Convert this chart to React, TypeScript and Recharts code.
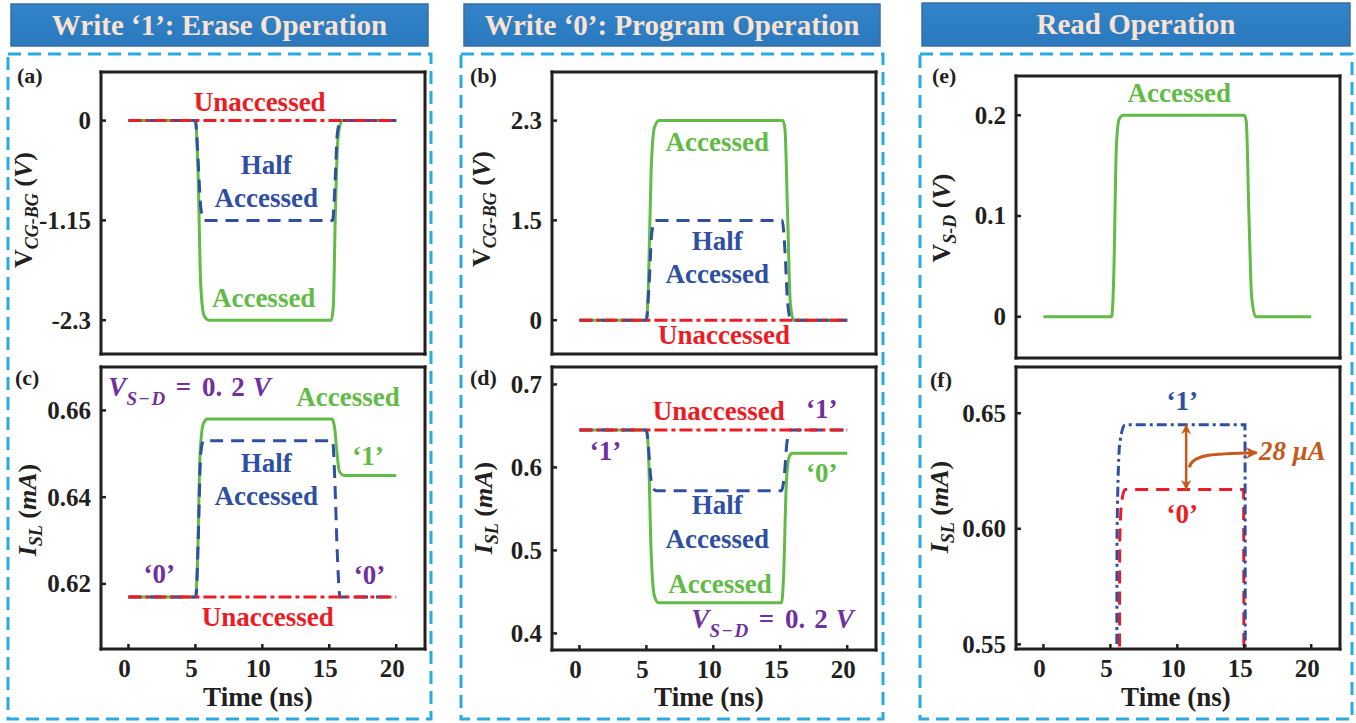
import React from 'react';
import { LineChart, Line, XAxis, YAxis, ReferenceDot, ReferenceLine } from 'recharts';

const SERIF = 'Liberation Serif';
const INK = '#231f20';
const GREEN = '#62bb46';
const BLUE = '#2f4fa2';
const RED = '#ed1c24';
const PURPLE = '#7030a0';
const ORANGE = '#c55a1c';
const FRAME = '#29abe2';
const HEAD_FILL = '#2a79bf';
const HEAD_TEXT = '#fbe3d2';

// shared time axis (ns)
const timeTicks = [0, 5, 10, 15, 20];
const timeDomain: [number, number] = [-2.05, 22.15];

// (a) erase, gate-to-back-gate bias (V)
const eraseGateAccT = [0, 5.0, 5.2, 5.4, 5.65, 6.0, 15.15, 15.3, 15.45, 15.65, 15.95, 20];
const eraseGateAccV = [0, 0, -0.6, -1.9, -2.25, -2.3, -2.3, -2.15, -1.1, -0.2, 0, 0];
const eraseGateHalfT = [0, 5.0, 5.2, 5.4, 5.65, 15.25, 15.45, 15.6, 15.85, 20];
const eraseGateHalfV = [0, 0, -0.45, -1.0, -1.15, -1.15, -0.65, -0.15, 0, 0];
const eraseGateUnT = [0, 20];
const eraseGateUnV = [0, 0];

// (c) erase, source-line current (mA)
const eraseIslAccT = [0, 5.0, 5.15, 5.35, 5.6, 5.9, 15.2, 15.4, 15.55, 15.75, 16.1, 20];
const eraseIslAccV = [0.617, 0.617, 0.624, 0.65, 0.657, 0.658, 0.658, 0.656, 0.651, 0.646, 0.645, 0.645];
const eraseIslHalfT = [0, 5.05, 5.2, 5.4, 5.6, 15.25, 15.4, 15.6, 15.8, 20];
const eraseIslHalfV = [0.617, 0.617, 0.629, 0.65, 0.653, 0.653, 0.645, 0.627, 0.617, 0.617];
const eraseIslUnT = [0, 20];
const eraseIslUnV = [0.617, 0.617];

// (b) program, gate-to-back-gate bias (V)
const progGateAccT = [0, 5.0, 5.15, 5.35, 5.6, 5.95, 15.2, 15.35, 15.55, 15.75, 16.0, 20];
const progGateAccV = [0, 0, 0.4, 1.7, 2.22, 2.3, 2.3, 2.2, 1.2, 0.2, 0, 0];
const progGateHalfT = [0, 5.0, 5.2, 5.4, 5.65, 15.15, 15.35, 15.55, 15.8, 20];
const progGateHalfV = [0, 0, 0.4, 1.0, 1.15, 1.15, 0.8, 0.2, 0, 0];
const progGateUnT = [0, 20];
const progGateUnV = [0, 0];
const progGateTicks = [0, 1.15, 2.3];
const progGateTickText = ['0', '1.5', '2.3'];

// (d) program, source-line current (mA)
const progIslAccT = [0, 5.0, 5.15, 5.35, 5.6, 5.9, 15.1, 15.25, 15.45, 15.65, 15.9, 20];
const progIslAccV = [0.645, 0.645, 0.62, 0.5, 0.445, 0.437, 0.437, 0.47, 0.58, 0.612, 0.617, 0.617];
const progIslHalfT = [0, 5.0, 5.15, 5.35, 5.7, 15.1, 15.3, 15.5, 15.75, 20];
const progIslHalfV = [0.645, 0.645, 0.625, 0.585, 0.572, 0.572, 0.59, 0.63, 0.645, 0.645];
const progIslUnT = [0, 20];
const progIslUnV = [0.645, 0.645];

// (e) read, source-to-drain bias (V)
const readVsdT = [0, 5.1, 5.25, 5.45, 5.65, 5.95, 15.0, 15.15, 15.35, 15.55, 15.85, 20];
const readVsdV = [0, 0, 0.04, 0.17, 0.196, 0.2, 0.2, 0.194, 0.1, 0.02, 0, 0];

// (f) read, source-line current (mA) for stored '1' and '0'
const readOneLevel = 0.645;
const readZeroLevel = 0.617;
const readOneT = [0, 5.4, 5.5, 5.7, 6.1, 15.05, 15.15, 20];
const readOneV = [0, 0, 0.6, 0.637, readOneLevel, readOneLevel, 0, 0];
const readZeroT = [0, 5.6, 5.7, 5.85, 6.1, 14.95, 15.05, 20];
const readZeroV = [0, 0, 0.595, 0.612, readZeroLevel, readZeroLevel, 0, 0];
const senseMarginUA = Math.round((readOneLevel - readZeroLevel) * 1000);

const zip = (t: number[], v: number[]) => t.map((time, i) => ({ t: time, v: v[i] }));

type Trace = { t: number[]; v: number[]; color: string; dash?: string };
type Note = { t: number; v: number; render: (x: number, y: number) => React.ReactElement };

const word = (text: string, color: string, size = 27) => (x: number, y: number) => (
  <text x={x} y={y} textAnchor="middle" fill={color} fontFamily={SERIF} fontWeight="bold" fontSize={size}>
    {text}
  </text>
);

const vsdNote = (x: number, y: number) => (
  <text x={x} y={y} textAnchor="start" fill={PURPLE} fontFamily={SERIF} fontWeight="bold" fontSize={27}>
    <tspan fontStyle="italic">V</tspan>
    <tspan fontStyle="italic" fontSize={19} dy={9} letterSpacing={1.5}>S−D</tspan>
    <tspan dy={-9} dx={9}>=</tspan>
    <tspan dx={11}>0.</tspan>
    <tspan dx={9}>2</tspan>
    <tspan dx={8} fontStyle="italic">V</tspan>
  </text>
);

const DASHED = '13 8';
const DASH_DOT = '13 4 4 4';

// outer margins around each plot box and the space taken by each axis
const ML = 100;
const MR = 12;
const MT = 12;
const MB = 56;
const Y_W = 60;
const X_H = 40;

const axisStroke = { stroke: INK, strokeWidth: 3, strokeLinecap: 'square' as const };
const tickStroke = { stroke: INK, strokeWidth: 2.5 };

type PanelProps = {
  box: [number, number, number, number];
  yDomain: [number, number];
  yTicks: number[];
  yTickText: string[];
  showTime: boolean;
  traces: Trace[];
  notes: Note[];
  children?: React.ReactNode;
};

function Panel({ box, yDomain, yTicks, yTickText, showTime, traces, notes, children }: PanelProps) {
  const [x0, y0, x1, y1] = box;
  const w = x1 - x0 + ML + MR;
  const h = y1 - y0 + MT + MB;
  const yText = (val: number) => {
    const i = yTicks.indexOf(val);
    return i >= 0 ? yTickText[i] : String(val);
  };
  return (
    <div style={{ position: 'absolute', left: x0 - ML, top: y0 - MT, width: w, height: h }}>
      <LineChart width={w} height={h} margin={{ top: MT - 1, right: MR - 1, bottom: MB - X_H, left: ML - Y_W }}>
        <XAxis
          xAxisId="x"
          type="number"
          dataKey="t"
          domain={timeDomain}
          ticks={timeTicks}
          allowDataOverflow
          interval={0}
          height={X_H}
          axisLine={axisStroke}
          tickLine={tickStroke}
          tickSize={-5}
          tickMargin={15}
          tick={
            showTime
              ? (p: any) => (
                  <text x={p.x} y={p.y} dx={-4} dy="0.7em" textAnchor="middle" fontFamily={SERIF} fontWeight="bold" fontSize={25} fill={INK}>
                    {p.payload.value}
                  </text>
                )
              : false
          }
        />
        <XAxis
          xAxisId="xt"
          orientation="top"
          type="number"
          domain={timeDomain}
          ticks={timeTicks}
          allowDataOverflow
          interval={0}
          height={1}
          axisLine={axisStroke}
          tickLine={tickStroke}
          tickSize={-5}
          tick={false}
        />
        <YAxis
          yAxisId="y"
          type="number"
          domain={yDomain}
          ticks={yTicks}
          allowDataOverflow
          interval={0}
          width={Y_W}
          axisLine={axisStroke}
          tickLine={tickStroke}
          tickSize={-5}
          tickMargin={15}
          tick={(p: any) => (
            <text x={p.x} y={p.y} dy="0.34em" textAnchor="end" fontFamily={SERIF} fontWeight="bold" fontSize={25} fill={INK}>
              {yText(p.payload.value)}
            </text>
          )}
        />
        <YAxis
          yAxisId="yr"
          orientation="right"
          type="number"
          domain={yDomain}
          ticks={yTicks}
          allowDataOverflow
          interval={0}
          width={1}
          axisLine={axisStroke}
          tickLine={tickStroke}
          tickSize={-5}
          tick={false}
        />
        {traces.map((tr, i) => (
          <Line
            key={i}
            xAxisId="x"
            yAxisId="y"
            data={zip(tr.t, tr.v)}
            dataKey="v"
            type="monotone"
            stroke={tr.color}
            strokeWidth={3}
            strokeDasharray={tr.dash}
            dot={false}
            activeDot={false}
            isAnimationActive={false}
          />
        ))}
        {notes.map((n, i) => (
          <ReferenceDot
            key={`n${i}`}
            xAxisId="x"
            yAxisId="y"
            x={n.t}
            y={n.v}
            r={1}
            shape={(p: any) => n.render(p.cx, p.cy)}
          />
        ))}
        {children}
      </LineChart>
    </div>
  );
}

function YTitle({ x, y, main, sub, unit, italicMain }: { x: number; y: number; main: string; sub: string; unit: string; italicMain?: boolean }) {
  return (
    <text transform={`rotate(-90 ${x} ${y})`} x={x} y={y} textAnchor="middle" fontFamily={SERIF} fontWeight="bold" fontSize={26} fill={INK}>
      <tspan fontStyle={italicMain ? 'italic' : 'normal'}>{main}</tspan>
      <tspan fontStyle="italic" fontSize={18} dy={6}>{sub}</tspan>
      <tspan dy={-6}> (</tspan>
      <tspan fontStyle="italic">{unit}</tspan>
      <tspan>)</tspan>
    </text>
  );
}

function Header({ x, y, w, h, text }: { x: number; y: number; w: number; h: number; text: string }) {
  return (
    <g>
      <rect x={x} y={y} width={w} height={h} fill="url(#headFill)" stroke="#3d6e9e" strokeWidth={1.5} />
      <text x={x + w / 2} y={y + 31} textAnchor="middle" fontFamily={SERIF} fontWeight="bold" fontSize={29} fill={HEAD_TEXT}>
        {text}
      </text>
    </g>
  );
}

const Tag = ({ x, y, text }: { x: number; y: number; text: string }) => (
  <text x={x} y={y} fontFamily={SERIF} fontWeight="bold" fontSize={22} fill={INK}>
    {text}
  </text>
);

const TimeTitle = ({ x }: { x: number }) => (
  <text x={x} y={706} textAnchor="middle" fontFamily={SERIF} fontWeight="bold" fontSize={27} fill={INK}>
    Time (ns)
  </text>
);

function DoubleArrow(p: any) {
  return (
    <g>
      <defs>
        <marker id="headA" viewBox="0 0 10 10" refX="9.5" refY="5" markerWidth="11" markerHeight="10" markerUnits="userSpaceOnUse" orient="auto-start-reverse">
          <path d="M0,0 L10,5 L0,10 L3,5 z" fill={ORANGE} />
        </marker>
      </defs>
      <line x1={p.x1} y1={p.y1} x2={p.x2} y2={p.y2} stroke={ORANGE} strokeWidth={2.5} markerStart="url(#headA)" markerEnd="url(#headA)" />
    </g>
  );
}

function CurvedArrow(p: any) {
  const d = `M${p.x1},${p.y1} C${p.x1 + 3},${p.y1 - 13} ${p.x1 + 22},${p.y2 + 1} ${p.x2},${p.y2}`;
  return (
    <g>
      <defs>
        <marker id="headB" viewBox="0 0 10 10" refX="9" refY="5" markerWidth="13" markerHeight="12" markerUnits="userSpaceOnUse" orient="auto">
          <path d="M0,0 L10,5 L0,10 L3,5 z" fill={ORANGE} />
        </marker>
      </defs>
      <path d={d} fill="none" stroke={ORANGE} strokeWidth={3} markerEnd="url(#headB)" />
    </g>
  );
}

export default function App() {
  return (
    <div style={{ position: 'absolute', left: 0, top: 0, width: 1356, height: 723, background: '#fff', overflow: 'hidden' }}>
      <svg width={1356} height={723} style={{ position: 'absolute', left: 0, top: 0 }}>
        <defs>
          <linearGradient id="headFill" x1="0" y1="0" x2="0" y2="1">
            <stop offset="0" stopColor="#3283c9" />
            <stop offset="1" stopColor={HEAD_FILL} />
          </linearGradient>
        </defs>
        <Header x={11} y={4} w={417} h={42} text="Write ‘1’: Erase Operation" />
        <Header x={464} y={4} w={416} h={42} text="Write ‘0’: Program Operation" />
        <Header x={922} y={3} w={428} h={43} text="Read Operation" />

        <rect x={8} y={54} width={423} height={665} fill="none" stroke={FRAME} strokeWidth={3} strokeDasharray="13 7" />
        <rect x={461} y={54} width={422} height={665} fill="none" stroke={FRAME} strokeWidth={3} strokeDasharray="13 7" />
        <rect x={920} y={54} width={432} height={665} fill="none" stroke={FRAME} strokeWidth={3} strokeDasharray="13 7" />

        <Tag x={17} y={83} text="(a)" />
        <Tag x={15} y={385} text="(c)" />
        <Tag x={470} y={83} text="(b)" />
        <Tag x={470} y={385} text="(d)" />
        <Tag x={932} y={83} text="(e)" />
        <Tag x={930} y={387} text="(f)" />

        <YTitle x={32} y={210} main="V" sub="CG-BG" unit="V" />
        <YTitle x={36} y={510} main="I" sub="SL" unit="mA" italicMain />
        <YTitle x={490} y={209} main="V" sub="CG-BG" unit="V" />
        <YTitle x={492} y={508} main="I" sub="SL" unit="mA" italicMain />
        <YTitle x={950} y={218} main="V" sub="S-D" unit="V" />
        <YTitle x={948} y={507} main="I" sub="SL" unit="mA" italicMain />

        <TimeTitle x={258} />
        <TimeTitle x={709} />
        <TimeTitle x={1176} />
      </svg>

      {/* (a) erase gate bias */}
      <Panel
        box={[101, 72, 425, 354]}
        yDomain={[-2.69, 0.56]}
        yTicks={[-2.3, -1.15, 0]}
        yTickText={['-2.3', '-1.15', '0']}
        showTime={false}
        traces={[
          { t: eraseGateAccT, v: eraseGateAccV, color: GREEN },
          { t: eraseGateHalfT, v: eraseGateHalfV, color: BLUE, dash: DASHED },
          { t: eraseGateUnT, v: eraseGateUnV, color: RED, dash: DASH_DOT },
        ]}
        notes={[
          { t: 9.8, v: 0.11, render: word('Unaccessed', RED) },
          { t: 10.3, v: -0.62, render: word('Half', BLUE) },
          { t: 10.3, v: -1.0, render: word('Accessed', BLUE) },
          { t: 10.1, v: -2.15, render: word('Accessed', GREEN) },
        ]}
      />

      {/* (c) erase source-line current */}
      <Panel
        box={[101, 367, 425, 649]}
        yDomain={[0.605, 0.67]}
        yTicks={[0.62, 0.64, 0.66]}
        yTickText={['0.62', '0.64', '0.66']}
        showTime
        traces={[
          { t: eraseIslAccT, v: eraseIslAccV, color: GREEN },
          { t: eraseIslHalfT, v: eraseIslHalfV, color: BLUE, dash: DASHED },
          { t: eraseIslUnT, v: eraseIslUnV, color: RED, dash: DASH_DOT },
        ]}
        notes={[
          { t: -1.5, v: 0.6634, render: vsdNote },
          { t: 16.4, v: 0.6609, render: word('Accessed', GREEN) },
          { t: 17.9, v: 0.6475, render: word('‘1’', GREEN) },
          { t: 10.3, v: 0.6457, render: word('Half', BLUE) },
          { t: 10.3, v: 0.6381, render: word('Accessed', BLUE) },
          { t: 2.3, v: 0.6203, render: word('‘0’', PURPLE) },
          { t: 18.0, v: 0.6199, render: word('‘0’', PURPLE) },
          { t: 10.4, v: 0.6104, render: word('Unaccessed', RED) },
        ]}
      />

      {/* (b) program gate bias */}
      <Panel
        box={[552, 72, 876, 354]}
        yDomain={[-0.39, 2.86]}
        yTicks={progGateTicks}
        yTickText={progGateTickText}
        showTime={false}
        traces={[
          { t: progGateAccT, v: progGateAccV, color: GREEN },
          { t: progGateHalfT, v: progGateHalfV, color: BLUE, dash: DASHED },
          { t: progGateUnT, v: progGateUnV, color: RED, dash: DASH_DOT },
        ]}
        notes={[
          { t: 10.3, v: 1.946, render: word('Accessed', GREEN) },
          { t: 10.3, v: 0.81, render: word('Half', BLUE) },
          { t: 10.3, v: 0.424, render: word('Accessed', BLUE) },
          { t: 10.8, v: -0.27, render: word('Unaccessed', RED) },
        ]}
      />

      {/* (d) program source-line current */}
      <Panel
        box={[552, 367, 876, 650]}
        yDomain={[0.38, 0.721]}
        yTicks={[0.4, 0.5, 0.6, 0.7]}
        yTickText={['0.4', '0.5', '0.6', '0.7']}
        showTime
        traces={[
          { t: progIslAccT, v: progIslAccV, color: GREEN },
          { t: progIslHalfT, v: progIslHalfV, color: BLUE, dash: DASHED },
          { t: progIslUnT, v: progIslUnV, color: RED, dash: DASH_DOT },
        ]}
        notes={[
          { t: 10.4, v: 0.657, render: word('Unaccessed', RED) },
          { t: 18.1, v: 0.66, render: word('‘1’', PURPLE) },
          { t: 1.95, v: 0.609, render: word('‘1’', PURPLE) },
          { t: 18.1, v: 0.5827, render: word('‘0’', GREEN) },
          { t: 10.3, v: 0.5437, render: word('Half', BLUE) },
          { t: 10.3, v: 0.5024, render: word('Accessed', BLUE) },
          { t: 10.5, v: 0.4489, render: word('Accessed', GREEN) },
          { t: 8.36, v: 0.4061, render: vsdNote },
        ]}
      />

      {/* (e) read drain bias */}
      <Panel
        box={[1016, 76, 1340, 358]}
        yDomain={[-0.041, 0.239]}
        yTicks={[0, 0.1, 0.2]}
        yTickText={['0', '0.1', '0.2']}
        showTime={false}
        traces={[{ t: readVsdT, v: readVsdV, color: GREEN }]}
        notes={[{ t: 10.15, v: 0.2129, render: word('Accessed', GREEN) }]}
      />

      {/* (f) read source-line current */}
      <Panel
        box={[1016, 367, 1340, 649]}
        yDomain={[0.548, 0.67]}
        yTicks={[0.55, 0.6, 0.65]}
        yTickText={['0.55', '0.60', '0.65']}
        showTime
        traces={[
          { t: readZeroT, v: readZeroV, color: RED, dash: '13 8' },
          { t: readOneT, v: readOneV, color: BLUE, dash: '10 4 3 4' },
        ]}
        notes={[
          { t: 10.37, v: 0.6514, render: word('‘1’', BLUE) },
          { t: 10.37, v: 0.6026, render: word('‘0’', RED) },
          {
            t: 16.1,
            v: 0.6298,
            render: (x: number, y: number) => (
              <text x={x} y={y} textAnchor="start" fill={ORANGE} fontFamily={SERIF} fontWeight="bold" fontStyle="italic" fontSize={27}>
                {`${senseMarginUA} μA`}
              </text>
            ),
          },
        ]}
      >
        <ReferenceLine
          xAxisId="x"
          yAxisId="y"
          segment={[
            { x: 10.66, y: readOneLevel },
            { x: 10.66, y: readZeroLevel },
          ]}
          shape={DoubleArrow}
        />
        <ReferenceLine
          xAxisId="x"
          yAxisId="y"
          segment={[
            { x: 10.9, y: 0.6266 },
            { x: 15.93, y: 0.6329 },
          ]}
          shape={CurvedArrow}
        />
      </Panel>
    </div>
  );
}
